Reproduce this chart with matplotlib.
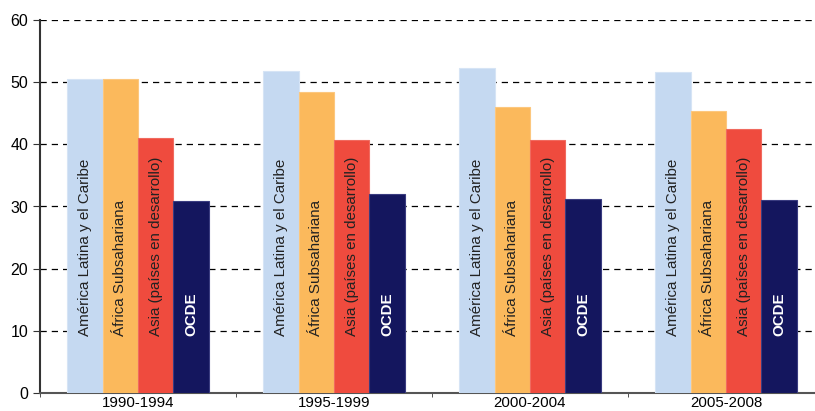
import numpy as np
import matplotlib.pyplot as plt

plt.rcParams['font.family'] = ['Liberation Sans', 'DejaVu Sans']

periods = ['1990-1994', '1995-1999', '2000-2004', '2005-2008']
regions = ['América Latina y el Caribe', 'África Subsahariana',
           'Asia (países en desarrollo)', 'OCDE']
america = [50.5, 51.8, 52.2, 51.7]
africa = [50.5, 48.4, 46.0, 45.4]
asia = [41.0, 40.7, 40.7, 42.4]
ocde = [30.9, 32.0, 31.2, 31.0]
series = [america, africa, asia, ocde]
colors = ['#C5D9F1', '#FBB95C', '#EF4B3E', '#14165E']
edges = ['#D6E4F5', '#FCC77E', '#F06A5F', '#3A3C80']
text_colors = ['#222222', '#222222', '#222222', 'white']

fig = plt.figure(figsize=(8.15, 4.11), dpi=100)
ax = fig.add_axes([40 / 815, 18 / 411, 784 / 815, 373 / 411])

x = np.arange(len(periods))
w = 0.181
for i, vals in enumerate(series):
    pos = x + (i - 1.5) * w
    ax.bar(pos, vals, width=w, color=colors[i], edgecolor=edges[i],
           linewidth=0.8, zorder=3)
    for p in pos:
        ax.text(p, 9.2, regions[i], rotation=90, ha='center', va='bottom',
                fontsize=10.9, color=text_colors[i],
                fontweight='bold' if i == 3 else 'normal', zorder=4)

ax.set_xlim(-0.5, 3.5)
ax.set_ylim(0, 60)
ax.set_yticks(range(0, 61, 10))
ax.set_xticks(x)
ax.set_xticklabels(periods)
ax.set_xticks(np.arange(-0.5, 4, 1), minor=True)
ax.tick_params(axis='x', which='major', length=0, labelsize=10.8, pad=2)
ax.tick_params(axis='x', which='minor', length=3, color='#333333')
ax.tick_params(axis='y', length=5, labelsize=11.5, color='#333333')
ax.yaxis.grid(True, linestyle=(0, (5, 4)), color='black', linewidth=0.9, zorder=0)
for s in ['top', 'right']:
    ax.spines[s].set_visible(False)
ax.spines['left'].set_color('#333333')
ax.spines['left'].set_linewidth(1.5)
ax.spines['bottom'].set_color('#555555')
ax.spines['bottom'].set_linewidth(1.5)

fig.savefig('out.png', dpi=100)
